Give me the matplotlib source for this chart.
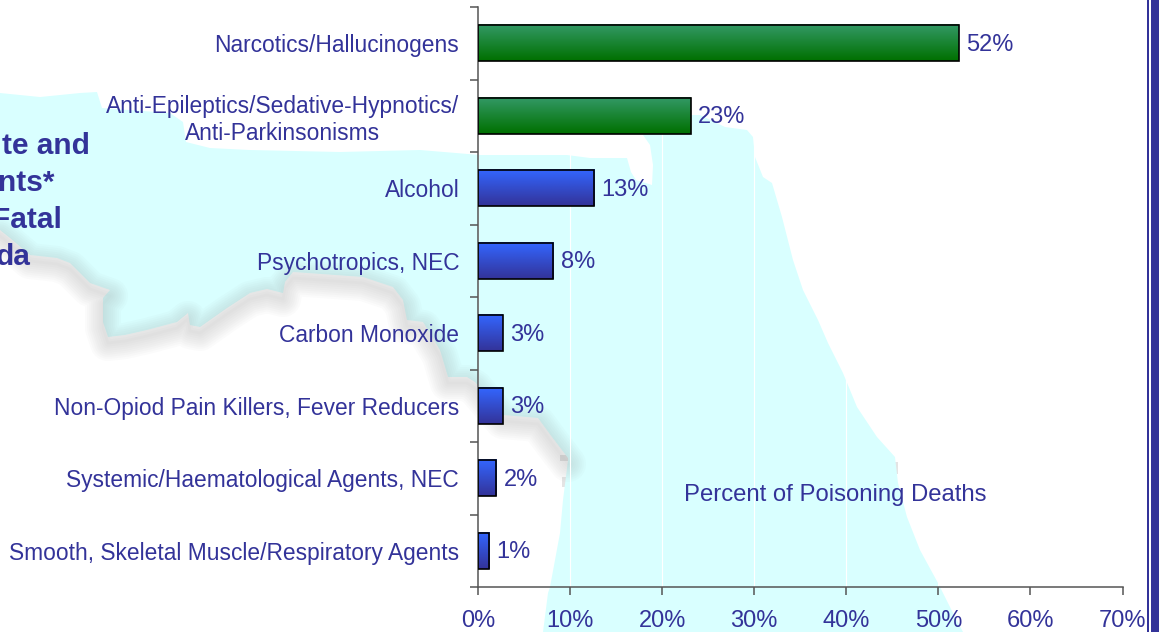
import matplotlib
matplotlib.use('Agg')
import matplotlib.pyplot as plt
from matplotlib.colors import LinearSegmentedColormap
from matplotlib.patches import Polygon, Rectangle
from matplotlib.transforms import ScaledTranslation
import numpy as np

# chart data
categories = ['Narcotics/Hallucinogens',
              'Anti-Epileptics/Sedative-Hypnotics/\nAnti-Parkinsonisms',
              'Alcohol',
              'Psychotropics, NEC',
              'Carbon Monoxide',
              'Non-Opiod Pain Killers, Fever Reducers',
              'Systemic/Haematological Agents, NEC',
              'Smooth, Skeletal Muscle/Respiratory Agents']
values = [52.2, 23.1, 12.6, 8.2, 2.7, 2.7, 2.0, 1.2]
value_labels = ['52%', '23%', '13%', '8%', '3%', '3%', '2%', '1%']
x_ticks = [0, 10, 20, 30, 40, 50, 60, 70]
title_lines = ['te and', 'nts*', 'Fatal', 'da']

# background map outline, traced in image pixels
map_top = [(0, 93), (40, 97), (80, 93), (97, 92), (102, 108), (170, 113), (183, 122),
           (186, 142), (210, 148), (250, 150), (340, 152), (420, 150), (480, 155),
           (567, 155), (590, 158), (627, 158), (631, 172), (636, 180), (652, 185),
           (653, 165), (650, 145), (643, 135), (692, 115), (700, 115), (725, 127),
           (747, 130), (753, 137), (755, 157), (763, 177), (772, 183), (782, 217),
           (793, 260), (803, 290), (818, 320), (828, 343), (843, 373), (857, 407),
           (877, 437), (895, 457), (898, 483), (907, 517), (920, 550), (938, 583),
           (953, 613), (963, 632)]
map_bottom = [(543, 632), (548, 593), (550, 587), (560, 533), (563, 500), (568, 460)]
map_coast = [(568, 458), (552, 437), (538, 418), (503, 415), (475, 382), (467, 377),
             (448, 377), (440, 350), (430, 333), (423, 322), (407, 320), (403, 300),
             (393, 287), (363, 277), (293, 272), (285, 282), (283, 293), (267, 289),
             (250, 293), (227, 308), (200, 327), (190, 325), (188, 313), (177, 322),
             (147, 330), (125, 335), (108, 337), (103, 322), (103, 298), (110, 290),
             (90, 283), (70, 263), (57, 258), (30, 255), (10, 238), (0, 230)]

text_color = '#333399'
plt.rcParams['font.family'] = ['Liberation Sans', 'DejaVu Sans']
plt.rcParams['font.size'] = 17

fig = plt.figure(figsize=(11.61, 6.32), dpi=100)

# background layer in pixel coordinates
bg = fig.add_axes([0, 0, 1, 1], zorder=0)
bg.set_xlim(0, 1161)
bg.set_ylim(632, 0)
bg.axis('off')

# soft gray shadow under the coast
cx, cy = zip(*map_coast)
for lw in range(26, 1, -3):
    bg.plot(cx, np.array(cy) + 6, color='#909090', lw=lw, alpha=0.03, solid_capstyle='round')
for px, py, w, h in [(560, 455, 10, 6), (562, 477, 8, 10), (586, 622, 14, 10), (615, 622, 8, 10), (893, 462, 5, 12)]:
    bg.add_patch(Rectangle((px, py), w, h, color='#e4e4e4', lw=0))

bg.add_patch(Polygon(map_top + map_bottom + map_coast, closed=True, fc='#d9ffff', ec='none'))

# right border of the slide
bg.add_patch(Rectangle((1147, 0), 2, 632, color=text_color, lw=0))
bg.add_patch(Rectangle((1151, 0), 8, 632, color=text_color, lw=0))

# cut off title on the left
for line, right, yc in zip(title_lines, [90, 55, 62, 31], [146, 183, 220, 257]):
    bg.text(right, yc, line, ha='right', va='center', fontsize=21.5, fontweight='bold', color=text_color)

# main chart
ax = fig.add_axes([478 / 1161, 1 - 587 / 632, 644.5 / 1161, 580 / 632], zorder=1)
ax.patch.set_visible(False)

y_pos = np.arange(len(categories))
bars = ax.barh(y_pos, values, height=0.5, facecolor='none', edgecolor='black', linewidth=1.2, zorder=3)

green = LinearSegmentedColormap.from_list('green', ['#339966', '#007000'])
blue = LinearSegmentedColormap.from_list('blue', ['#3366ff', '#333399'])
gradient = np.linspace(0, 1, 64).reshape(-1, 1)
for i, bar in enumerate(bars):
    ax.imshow(gradient, cmap=green if i < 2 else blue, aspect='auto', zorder=2,
              extent=[0, bar.get_width(), bar.get_y() + bar.get_height(), bar.get_y()])

ax.set_xlim(0, 70)
ax.set_ylim(7.5, -0.5)
ax.set_xticks(x_ticks)
ax.set_xticklabels([f'{t}%' for t in x_ticks])
ax.set_yticks(y_pos)
ax.set_yticklabels(categories, fontsize=16.4)

# nudge the category labels up a little
nudge = ScaledTranslation(0, 1 / 100, fig.dpi_scale_trans)
for label in ax.get_yticklabels():
    label.set_multialignment('center')
    label.set_linespacing(1.22)
    label.set_transform(label.get_transform() + nudge)
ax.set_yticks(np.arange(-0.5, 8, 1), minor=True)

ax.grid(axis='x', color='white', linewidth=0.8, zorder=1)
ax.set_axisbelow(True)
ax.tick_params(axis='y', which='major', length=0, pad=13.5, colors=text_color)
ax.tick_params(axis='y', which='minor', length=6, width=1.1, color='#555555')
ax.tick_params(axis='x', length=6, width=1.1, color='#555555', labelcolor=text_color, pad=10.5)

for side in ['top', 'right']:
    ax.spines[side].set_visible(False)
for side in ['left', 'bottom']:
    ax.spines[side].set_color('#555555')
    ax.spines[side].set_linewidth(1.1)

for y, v, text in zip(y_pos, values, value_labels):
    ax.annotate(text, (v, y), xytext=(5.5, -1), textcoords='offset points',
                va='center', color=text_color)
ax.text(38.8, 6.23, 'Percent of Poisoning Deaths', ha='center', va='center', fontsize=17.2, color=text_color)

fig.savefig('out.png', dpi=100)
